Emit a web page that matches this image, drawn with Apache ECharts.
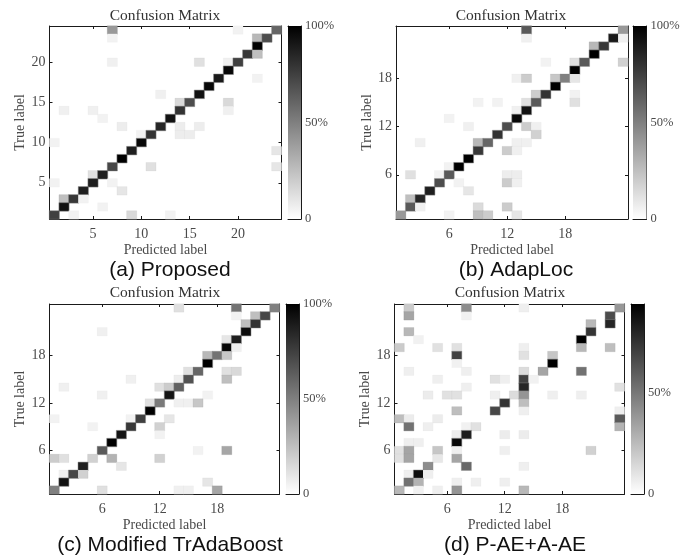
<!DOCTYPE html>
<html>
<head>
<meta charset="utf-8">
<style>html,body{margin:0;padding:0;background:#fff}#c{width:687px;height:558px}</style>
<script src="https://cdn.jsdelivr.net/npm/echarts@6/dist/echarts.min.js"></script>
</head>
<body>
<div id="c"></div>
<script>
const categories = Array.from({length: 24}, (_, i) => String(i + 1));
const ticksA = ['5', '10', '15', '20'];
const ticksOther = ['6', '12', '18'];
const chartTitle = 'Confusion Matrix';
const xName = 'Predicted label';
const yName = 'True label';
const captions = ['(a) Proposed', '(b) AdapLoc', '(c) Modified TrAdaBoost', '(d) P-AE+A-AE'];

// [predicted, true, percent]
const matrixA = [
 [7,24,40],[20,24,5],[24,24,60],
 [7,23,5],[22,23,28],[23,23,70],
 [22,22,100],
 [21,21,78],[22,21,25],
 [7,20,6],[16,20,12],[19,20,6],[20,20,75],
 [19,19,97],
 [18,18,90],[22,18,5],
 [17,17,97],
 [12,16,6],[16,16,93],
 [14,15,15],[15,15,70],[19,15,15],
 [2,14,6],[5,14,6],[14,14,80],[19,14,6],
 [6,13,5],[13,13,93],
 [8,12,7],[12,12,85],[14,12,7],[16,12,7],
 [10,11,5],[11,11,80],[14,11,7],[15,11,7],
 [1,10,5],[10,10,97],
 [9,9,88],[24,9,10],
 [8,8,100],
 [7,7,72],[11,7,12],[24,7,10],
 [5,6,12],[6,6,88],
 [1,5,5],[5,5,88],[7,5,5],
 [4,4,88],[8,4,10],
 [2,3,25],[3,3,78],[4,3,5],
 [2,2,93],[6,2,5],
 [1,1,75],[3,1,5],[9,1,15],[13,1,5]
];
const matrixB = [
 [14,24,65],[24,24,40],
 [14,23,6],[23,23,90],[24,23,6],
 [21,22,28],[22,22,78],
 [21,21,100],
 [16,20,5],[19,20,12],[20,20,65],[24,20,18],
 [19,19,100],
 [13,18,6],[14,18,20],[17,18,22],[18,18,50],[19,18,10],
 [17,17,100],
 [15,16,20],[16,16,80],[19,16,5],
 [9,15,5],[11,15,5],[14,15,12],[15,15,65],[19,15,12],
 [13,14,6],[14,14,93],
 [6,13,5],[13,13,97],
 [8,12,6],[12,12,70],[14,12,20],[15,12,6],
 [11,11,80],[15,11,18],
 [3,10,6],[9,10,28],[10,10,60],[13,10,6],[14,10,6],
 [9,9,78],[12,9,20],[13,9,6],
 [8,8,100],
 [6,7,5],[7,7,100],
 [2,6,12],[5,6,5],[6,6,65],[12,6,7],[13,6,7],
 [5,5,70],[7,5,5],[12,5,20],[13,5,6],
 [4,4,88],[8,4,10],
 [2,3,25],[3,3,85],
 [2,2,65],[3,2,6],[9,2,14],[12,2,20],
 [1,1,40],[6,1,5],[9,1,25],[10,1,20],[13,1,10]
];
const matrixC = [
 [14,24,12],[20,24,55],[24,24,50],
 [20,23,5],[22,23,25],[23,23,72],
 [21,22,25],[22,22,80],
 [6,21,6],[21,21,95],
 [19,20,10],[20,20,88],
 [19,19,97],[20,19,6],
 [17,18,28],[18,18,55],[19,18,22],
 [17,17,100],
 [15,16,12],[16,16,60],[19,16,12],[20,16,15],
 [9,15,6],[14,15,7],[15,15,68],[19,15,25],
 [2,14,6],[12,14,12],[13,14,20],[14,14,62],
 [6,13,6],[13,13,92],[17,13,5],
 [11,12,12],[12,12,52],[14,12,6],[15,12,6],[16,12,22],
 [11,11,100],
 [1,10,5],[9,10,5],[10,10,75],[13,10,10],
 [5,9,5],[9,9,78],[12,9,18],
 [8,8,92],[12,8,5],
 [7,7,100],
 [6,6,65],[16,6,5],[19,6,35],
 [1,5,20],[2,5,12],[5,5,18],[7,5,30],[12,5,18],
 [4,4,88],[8,4,10],
 [2,3,6],[3,3,72],[4,3,18],
 [2,2,93],[17,2,10],
 [1,1,50],[6,1,12],[14,1,6],[15,1,6],[18,1,35]
];
const matrixD = [
 [2,24,19],[8,24,42],[14,24,6],[24,24,38],
 [2,23,33],[8,23,5],[23,23,66],
 [21,22,26],[23,22,80],
 [2,21,26],[21,21,75],
 [3,20,5],[20,20,94],
 [1,19,19],[5,19,11],[7,19,11],[14,19,6],[20,19,26],[23,19,24],
 [7,18,70],[14,18,11],[17,18,21],
 [7,17,5],[17,17,94],
 [2,16,6],[8,16,6],[14,16,13],[16,16,33],[20,16,52],
 [5,15,6],[11,15,11],[12,15,6],[14,15,70],[15,15,5],
 [8,14,6],[14,14,80],[24,14,11],
 [4,13,7],[6,13,11],[7,13,11],[11,13,6],[13,13,13],[14,13,39],[17,13,6],[20,13,6],
 [12,12,75],[14,12,24],
 [7,11,24],[11,11,68],[14,11,6],[24,11,6],
 [1,10,24],[2,10,7],[5,10,7],[24,10,61],
 [2,9,52],[4,9,6],[8,9,5],[9,9,11],[24,9,28],
 [7,8,7],[8,8,83],[12,8,7],[14,8,7],
 [2,7,6],[3,7,6],[7,7,91],
 [1,6,11],[2,6,33],[5,6,21],[7,6,6],[12,6,6],[21,6,17],
 [1,5,11],[2,5,33],[5,5,9],[7,5,33],
 [4,4,42],[8,4,56],[14,4,6],
 [2,3,6],[3,3,89],[4,3,6],
 [2,2,52],[3,2,28],[7,2,6],[9,2,6],[12,2,6],
 [1,1,26],[3,1,5],[5,1,6],[7,1,39],[14,1,26]
];
const matrices = [matrixA, matrixB, matrixC, matrixD];
const maxima = [100, 100, 100, 94];
const barTicks = [[0,50,100],[0,50,100],[0,50,100],[0,50]];
const xyTicks = [ticksA, ticksOther, ticksOther, ticksOther];

const plots = [
 {l:49.5, t:26, w:232, h:193, bl:288, bw:13, tx:165, ty:8, cx:170, cy:260},
 {l:396, t:26, w:232, h:193, bl:633, bw:13.5, tx:511, ty:8, cx:516, cy:260},
 {l:49.5, t:304, w:230, h:190, bl:286, bw:13, tx:165, ty:285, cx:170, cy:535},
 {l:394.5, t:304, w:230, h:190, bl:631, bw:13, tx:510, ty:285, cx:515, cy:535}
];
const serif = '"Liberation Serif","Times New Roman",serif';
const txt = '#4a4a4a', line = '#1a1a1a';

const option = {animation:false, backgroundColor:'#fff', title:[], grid:[], xAxis:[], yAxis:[], series:[], visualMap:[]};
plots.forEach((p, i) => {
  option.title.push({text:chartTitle, left:p.tx, top:p.ty, textAlign:'center', padding:0,
    textStyle:{fontFamily:serif, fontSize:15.5, fontWeight:'normal', color:'#333'}});
  option.title.push({text:captions[i], left:p.cx, top:p.cy, textAlign:'center', padding:0,
    textStyle:{fontFamily:'"Liberation Sans",Arial,sans-serif', fontSize:21, fontWeight:'normal', color:'#111'}});
  const g = option.grid.length;
  option.grid.push({left:p.l, top:p.t, width:p.w, height:p.h, show:false});
  option.grid.push({left:p.bl, top:p.t, width:p.bw, height:p.h, show:false});
  const show = (idx, v) => xyTicks[i].includes(v);
  const mk = (position, labels, margin) => ({
    type:'category', gridIndex:g, data:categories, position,
    axisLine:{show:true, onZero:false, lineStyle:{color:line, width:1}},
    axisTick:{show:true, inside:true, length:3, alignWithLabel:true, interval:show, lineStyle:{color:line}},
    axisLabel:{show:labels, interval:show, fontFamily:serif, fontSize:14, color:txt, margin:margin},
    splitLine:{show:false}
  });
  const xi = option.xAxis.length, yi = option.yAxis.length;
  option.xAxis.push(Object.assign(mk('bottom', true, 8), {name:xName, nameLocation:'middle', nameGap:24,
    nameTextStyle:{fontFamily:serif, fontSize:14, color:txt}}));
  option.yAxis.push(Object.assign(mk('left', true, 4), {name:yName, nameLocation:'middle', nameGap:22, nameRotate:90,
    nameTextStyle:{fontFamily:serif, fontSize:14, color:txt}}));
  option.xAxis.push(mk('top', false, 0));
  option.yAxis.push(mk('right', false, 0));
  // colour bar axes
  const bxi = option.xAxis.length, byi = option.yAxis.length;
  const frame = {show:true, onZero:false, lineStyle:{color:line, width:1}};
  option.xAxis.push({type:'category', gridIndex:g+1, data:[''], position:'bottom', axisLine:frame, axisTick:{show:false}, axisLabel:{show:false}});
  option.xAxis.push({type:'category', gridIndex:g+1, data:[''], position:'top', axisLine:frame, axisTick:{show:false}, axisLabel:{show:false}});
  option.yAxis.push({type:'value', gridIndex:g+1, min:0, max:maxima[i], position:'left', axisLine:frame, axisTick:{show:false}, axisLabel:{show:false}, splitLine:{show:false}});
  option.yAxis.push({type:'value', gridIndex:g+1, min:0, max:maxima[i], position:'right', axisLine:frame, splitLine:{show:false},
    axisTick:{show:true, inside:true, length:3, customValues:[50], lineStyle:{color:line}},
    axisLabel:{show:true, customValues:barTicks[i], fontFamily:serif, fontSize:12.5, color:txt, margin:4,
      formatter:v => v === 0 ? '0' : v + '%'}});
  const si = option.series.length;
  option.series.push({type:'heatmap', xAxisIndex:xi, yAxisIndex:yi,
    data:matrices[i].map(d => ({
      value:[d[0]-1, d[1]-1, d[2]],
      itemStyle:{borderWidth:1, borderColor:'rgba(135,135,135,' + (d[2] / maxima[i] * 0.55).toFixed(3) + ')'}
    })),
    emphasis:{disabled:true}});
  option.series.push({type:'bar', xAxisIndex:bxi, yAxisIndex:byi, data:[maxima[i]], barWidth:'100%', silent:true,
    itemStyle:{color:{type:'linear', x:0, y:0, x2:0, y2:1, colorStops:[{offset:0, color:'#000'},{offset:1, color:'#fff'}]}}});
  option.visualMap.push({show:false, seriesIndex:si, min:0, max:maxima[i], dimension:2, inRange:{color:['#ffffff','#000000']}});
});
echarts.init(document.getElementById('c'), null, {renderer:'canvas'}).setOption(option);
</script>
</body>
</html>
